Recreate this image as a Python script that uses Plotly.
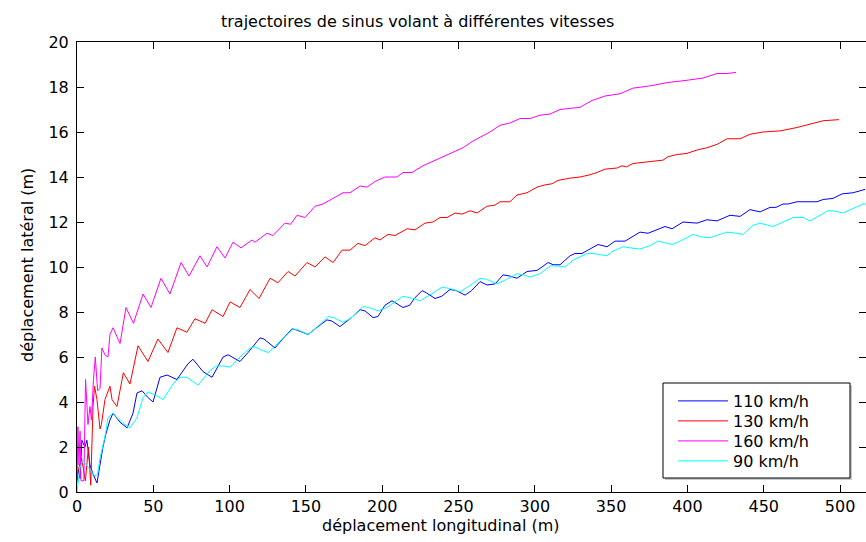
import plotly.graph_objects as go

# legend labels and colours, in the order of the original legend
SPEEDS = ["110 km/h", "130 km/h", "160 km/h", "90 km/h"]
COLORS = ["#0000ff", "#ff0000", "#ff00ff", "#00ffff"]

# (longitudinal m, lateral m)
TRAJ_110 = [
    (0, 0.5), (1.0, 1.0), (2.0, 0.6), (3.2, 2.3), (5.2, 2.0), (6.5, 2.3), (8.5, 1.2),
    (10.5, 0.8), (13.1, 0.4), (15.1, 1.2), (17.0, 2.0), (19.0, 2.6), (21.6, 3.2),
    (23.6, 3.5), (26.2, 3.3), (28.2, 3.1), (32.8, 2.85), (36.7, 3.5), (39.3, 4.4),
    (42.6, 4.5), (46.5, 4.2), (49.8, 4.0), (54.4, 5.1), (59.0, 5.2), (65.5, 5.0),
    (72.7, 5.7), (76.0, 5.9), (82.6, 5.35), (88.5, 5.1), (95.7, 6.0), (99.0, 6.1),
    (106.8, 5.8), (112.1, 6.2), (119.9, 6.85), (122.5, 6.8), (129.7, 6.4), (136.0, 6.9),
    (140.9, 7.25), (144.0, 7.2), (151.4, 7.0), (156.0, 7.25), (163.8, 7.65), (167.0, 7.6),
    (172.3, 7.35), (178.9, 7.7), (185.5, 8.1), (188.7, 8.05), (194.0, 7.75), (197.2, 7.8),
    (201.8, 8.3), (206.4, 8.5), (209.7, 8.35), (213.6, 8.2), (218.0, 8.3), (221.0, 8.6),
    (226.1, 8.95), (229.0, 8.85), (234.6, 8.6), (239.0, 8.7), (244.4, 9.0), (248.5, 8.95),
    (254.3, 8.75), (258.5, 8.95), (264.1, 9.35), (268.7, 9.2), (274.0, 9.25), (279.2, 9.65),
    (283.5, 9.6), (288.3, 9.5), (294.9, 9.8), (301.4, 9.85), (304.7, 10.0), (308.7, 10.2),
    (312.0, 10.1), (316.5, 10.1), (323.1, 10.5), (326.3, 10.6), (330.9, 10.6), (334.9, 10.75),
    (341.4, 11.0), (347.3, 10.9), (352.6, 11.15), (359.1, 11.15), (368.9, 11.55), (374.2, 11.5),
    (385.3, 11.8), (389.9, 11.7), (397.1, 12.0), (406.3, 11.95), (412.8, 12.1), (419.4, 12.05),
    (427.9, 12.3), (434.5, 12.25), (441.0, 12.55), (447.6, 12.45), (454.1, 12.65), (458.0, 12.65),
    (462.6, 12.8), (466.0, 12.8), (471.8, 12.9), (484.9, 12.9), (488.9, 13.0), (495.4, 13.05),
    (501.3, 13.25), (508.5, 13.3), (516.4, 13.45),
]

TRAJ_130 = [
    (0, 0.8), (3.0, 1.5), (5.5, 0.5), (7.5, 2.0), (9.0, 0.3), (10.5, 3.8), (11.5, 4.7),
    (13.1, 4.1), (15.1, 2.8), (16.0, 3.0), (18.3, 4.1), (21.6, 4.7), (23.0, 4.1), (26.2, 3.8),
    (30.4, 5.3), (34.7, 4.8), (40.0, 6.5), (46.5, 5.8), (53.0, 6.8), (59.6, 6.2), (65.5, 7.3),
    (72.0, 7.1), (77.3, 7.7), (84.0, 7.5), (88.5, 8.1), (95.7, 7.8), (100.3, 8.45), (106.8, 8.2),
    (113.4, 9.0), (119.3, 8.6), (126.5, 9.5), (131.7, 9.3), (138.3, 9.8), (142.9, 9.6),
    (150.7, 10.2), (156.0, 10.0), (162.5, 10.45), (167.8, 10.2), (173.7, 10.75), (178.9, 10.75),
    (184.1, 11.05), (188.7, 10.95), (195.3, 11.3), (198.5, 11.2), (203.8, 11.45), (208.4, 11.4),
    (216.3, 11.7), (221.5, 11.65), (228.0, 11.95), (233.3, 12.0), (237.9, 12.2), (242.5, 12.2),
    (247.7, 12.4), (252.3, 12.35), (257.5, 12.5), (262.1, 12.4), (268.7, 12.7), (273.9, 12.75),
    (277.2, 12.9), (283.7, 12.9), (288.3, 13.2), (294.9, 13.3), (301.4, 13.55), (306.7, 13.65),
    (311.3, 13.7), (315.2, 13.85), (323.1, 13.95), (329.6, 14.0), (336.2, 14.1), (340.8, 14.2),
    (346.0, 14.35), (353.9, 14.4), (357.1, 14.5), (360.0, 14.45), (364.3, 14.6), (370.9, 14.65),
    (377.5, 14.7), (384.0, 14.75), (387.3, 14.9), (393.2, 15.0), (399.7, 15.05), (406.3, 15.2),
    (412.8, 15.3), (419.4, 15.45), (426.0, 15.7), (434.5, 15.7), (441.0, 15.9), (449.5, 16.0),
    (460.7, 16.05), (465.3, 16.1), (471.8, 16.2), (480.3, 16.35), (488.9, 16.5), (499.3, 16.55),
]

TRAJ_160 = [
    (0.0, 0.4), (0.6, 2.9), (1.3, 1.2), (2.0, 2.7), (2.6, 0.5), (4.5, 0.5), (5.6, 5.0),
    (7.2, 3.0), (8.5, 3.8), (9.5, 3.2), (10.8, 5.0), (12.0, 6.0), (13.5, 4.5), (15.1, 4.6),
    (16.3, 6.4), (18.3, 6.1), (20.3, 6.0), (21.6, 7.0), (23.6, 7.3), (28.2, 6.6), (32.1, 8.2),
    (37.0, 7.5), (43.3, 8.8), (48.5, 8.2), (55.0, 9.5), (60.9, 8.8), (68.2, 10.2), (73.4, 9.6),
    (80.6, 10.5), (85.2, 10.0), (91.7, 10.9), (97.0, 10.4), (102.2, 11.1), (107.5, 10.85),
    (114.7, 11.2), (116.6, 11.1), (124.5, 11.5), (128.4, 11.4), (136.3, 11.95), (140.0, 11.9),
    (144.2, 12.3), (149.4, 12.2), (156.0, 12.7), (161.2, 12.8), (169.1, 13.1), (174.3, 13.3),
    (178.9, 13.3), (185.5, 13.6), (190.0, 13.55), (195.3, 13.8), (201.8, 14.0), (209.7, 14.0),
    (213.6, 14.2), (219.5, 14.2), (226.7, 14.5), (233.3, 14.7), (239.2, 14.9), (246.4, 15.1),
    (252.9, 15.3), (259.5, 15.6), (265.4, 15.8), (270.6, 16.0), (277.2, 16.3), (283.7, 16.4),
    (290.3, 16.6), (296.9, 16.6), (303.4, 16.75), (310.0, 16.8), (316.5, 17.0), (329.6, 17.1),
    (337.5, 17.4), (346.0, 17.6), (355.8, 17.7), (364.3, 17.95), (375.5, 18.05), (387.3, 18.2),
    (399.7, 18.3), (410.2, 18.4), (419.4, 18.6), (426.0, 18.6), (431.8, 18.65),
]

TRAJ_90 = [
    (0, 0.0), (1.0, 0.6), (2.0, 1.1), (3.9, 1.4), (6.0, 1.2), (8.5, 1.0), (11.8, 0.7),
    (13.5, 0.8), (15.1, 1.5), (18.3, 2.45), (20.3, 3.3), (23.6, 3.5), (26.2, 3.3), (30.1, 3.05),
    (34.7, 2.85), (39.3, 3.3), (43.3, 4.2), (46.5, 4.45), (53.1, 4.25), (56.4, 4.1), (62.9, 4.8),
    (67.5, 5.1), (72.0, 5.1), (79.3, 4.75), (87.2, 5.4), (91.0, 5.6), (95.7, 5.6), (100.3, 5.55),
    (106.8, 6.0), (113.4, 6.4), (116.6, 6.45), (121.0, 6.3), (125.2, 6.2), (130.0, 6.5),
    (136.3, 6.9), (141.5, 7.25), (145.0, 7.2), (151.4, 7.0), (157.0, 7.3), (164.5, 7.8),
    (168.0, 7.75), (174.3, 7.55), (179.0, 7.7), (187.4, 8.25), (191.0, 8.2), (197.2, 8.05),
    (203.0, 8.2), (213.6, 8.7), (220.0, 8.6), (224.8, 8.5), (231.0, 8.75), (239.2, 9.1),
    (244.0, 9.05), (251.0, 8.9), (258.0, 9.2), (264.1, 9.5), (268.5, 9.45), (275.2, 9.25),
    (281.5, 9.45), (288.3, 9.7), (292.5, 9.65), (296.9, 9.55), (303.4, 9.7), (310.0, 10.05),
    (313.9, 10.05), (319.8, 10.0), (325.0, 10.3), (334.2, 10.6), (338.1, 10.6), (347.3, 10.5),
    (351.2, 10.7), (357.8, 10.9), (362.4, 10.85), (368.9, 10.8), (375.5, 10.95), (380.7, 11.15),
    (384.0, 11.1), (389.9, 11.0), (395.2, 11.15), (403.7, 11.45), (408.3, 11.35), (414.8, 11.3),
    (421.4, 11.45), (426.0, 11.55), (432.5, 11.5), (436.4, 11.45), (443.0, 11.85), (447.6, 11.95),
    (456.1, 11.8), (462.6, 12.0), (469.2, 12.2), (475.8, 12.2), (480.3, 12.05), (486.9, 12.3),
    (492.1, 12.5), (495.4, 12.5), (502.0, 12.4), (508.5, 12.6), (515.1, 12.8), (517.0, 12.8),
]

X_TICKS = list(range(0, 501, 50))
Y_TICKS = list(range(0, 21, 2))

TITLE = "trajectoires de sinus volant à différentes vitesses"
X_LABEL = "déplacement longitudinal (m)"
Y_LABEL = "déplacement latéral (m)"

W, H = 866, 542
ML, MR, MT, MB = 77, 0, 42, 50
FONT = "DejaVu Sans"


def paper_x(px):
    return (px - ML) / (W - ML - MR)


def paper_y(py):
    return (H - MB - py) / (H - MT - MB)


def build_figure():
    fig = go.Figure()

    legend_ids = ["legend", "legend2", "legend3", "legend4"]
    trajs = [TRAJ_110, TRAJ_130, TRAJ_160, TRAJ_90]
    for name, color, traj, lg in zip(SPEEDS, COLORS, trajs, legend_ids):
        fig.add_trace(go.Scatter(
            x=[p[0] for p in traj],
            y=[p[1] for p in traj],
            mode="lines",
            name=name,
            legend=lg,
            line=dict(color=color, width=1),
        ))

    axis_style = dict(
        ticks="inside", ticklen=7, tickcolor="black",
        showline=True, linecolor="black", linewidth=1, mirror="ticks",
        showgrid=False, zeroline=False,
        tickfont=dict(family=FONT, size=16, color="black"),
    )
    fig.update_xaxes(range=[0, 517], tickvals=X_TICKS, ticklabelstandoff=0, **axis_style)
    fig.update_yaxes(range=[0, 20], tickvals=Y_TICKS, ticklabelstandoff=4, **axis_style)

    # legend frame with its small shadow
    fig.add_shape(type="rect", xref="paper", yref="paper",
                  x0=paper_x(665), x1=paper_x(852), y0=paper_y(480), y1=paper_y(385),
                  line=dict(width=0), fillcolor="#c8c8c8", layer="above")
    fig.add_shape(type="rect", xref="paper", yref="paper",
                  x0=paper_x(663), x1=paper_x(850), y0=paper_y(478), y1=paper_y(383),
                  line=dict(color="black", width=1), fillcolor="white", layer="above")

    text_font = dict(family=FONT, size=16, color="black")
    fig.add_annotation(text=TITLE, xref="paper", yref="paper",
                       x=paper_x(417), y=paper_y(21), xanchor="center", yanchor="middle",
                       showarrow=False, font=text_font)
    fig.add_annotation(text=X_LABEL, xref="paper", yref="paper",
                       x=paper_x(441), y=paper_y(525), xanchor="center", yanchor="middle",
                       showarrow=False, font=text_font)
    fig.add_annotation(text=Y_LABEL, xref="paper", yref="paper",
                       x=paper_x(27), y=paper_y(265), xanchor="center", yanchor="middle",
                       showarrow=False, textangle=-90, font=text_font)

    # one legend per entry so the rows can sit 20 px apart like the original
    legends = {}
    for i, lg in enumerate(legend_ids):
        legends[lg] = dict(
            x=paper_x(673), y=paper_y(401 + 20 * i), xanchor="left", yanchor="middle",
            bgcolor="rgba(0,0,0,0)", borderwidth=0,
            font=dict(family=FONT, size=16, color="black"),
            itemwidth=50,
        )

    fig.update_layout(
        width=W, height=H,
        margin=dict(l=ML, r=MR, t=MT, b=MB),
        paper_bgcolor="white", plot_bgcolor="white",
        font=text_font,
        showlegend=True,
        **legends,
    )
    return fig


if __name__ == "__main__":
    fig = build_figure()
    # drop the default 8px page margin so the figure fills the window
    fig.write_html("out.html", config={"displayModeBar": False},
                   post_script="document.body.style.margin='0';")
